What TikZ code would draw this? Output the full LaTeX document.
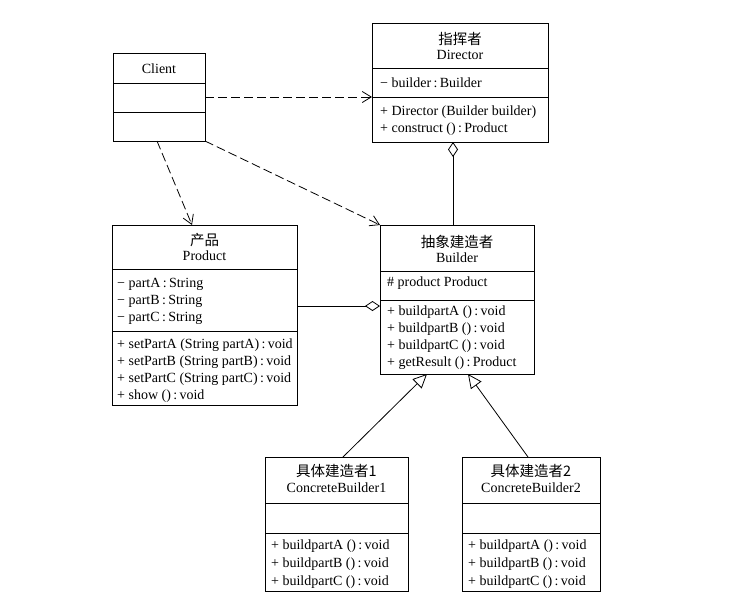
\documentclass[tikz,border=0pt]{standalone}
\usepackage{fontspec}
\setmainfont{Liberation Serif}
\newfontfamily\cjk{Noto Sans CJK SC}
\usetikzlibrary{arrows.meta,calc}
\begin{document}
\begin{tikzpicture}[x=1pt,y=-1pt,
  box/.style={draw,line width=0.9pt,anchor=north west,inner sep=0pt,outer sep=0pt},
  txt/.style={anchor=west,inner sep=0pt,yshift=-1pt,font=\fontsize{14}{16}\selectfont},
  ttl/.style={inner sep=0pt,font=\fontsize{14}{16}\selectfont},
  cn/.style={inner sep=0pt,font=\cjk\fontsize{14.5}{16}\selectfont},
  divline/.style={line width=0.9pt},
  dep/.style={draw,line width=0.8pt,dash pattern=on 9pt off 4pt,-{Straight Barb[length=9pt,width=11pt]}},
  agg/.style={draw,line width=0.8pt,-{Diamond[open,length=15pt,width=10pt]}},
  gen/.style={draw,line width=0.8pt,-{Triangle[open,length=14pt,width=13pt]}}
]
\useasboundingbox (0,0) rectangle (756,603);

% Client
\node[box,minimum width=92pt,minimum height=88pt] (client) at (113,53) {};
\draw[divline] (113,83) -- (205,83);
\draw[divline] (113,112) -- (205,112);
\node[ttl] (clientT) at (159,69) {Client};

% Director
\node[box,minimum width=176pt,minimum height=119pt] (director) at (372,23) {};
\draw[divline] (372,68) -- (548,68);
\draw[divline] (372,97) -- (548,97);
\node[cn] (dirC) at (460,39) {指挥者};
\node[ttl] (dirT) at (460,55) {Director};
\node[txt] (dirA1) at (380,82) {− builder\,:\,Builder};
\node[txt] (dirM1) at (380,111) {+ Director (Builder builder)};
\node[txt] (dirM2) at (380,128) {+ construct ()\,:\,Product};

% Product
\node[box,minimum width=185pt,minimum height=180pt] (product) at (112,225) {};
\draw[divline] (112,269) -- (297,269);
\draw[divline] (112,331) -- (297,331);
\node[cn] (prodC) at (204.5,240) {产品};
\node[ttl] (prodT) at (204.5,256) {Product};
\node[txt] (prodA1) at (117,283) {− partA\,:\,String};
\node[txt] (prodA2) at (117,300) {− partB\,:\,String};
\node[txt] (prodA3) at (117,317) {− partC\,:\,String};
\node[txt] (prodM1) at (117,344) {+ setPartA (String partA)\,:\,void};
\node[txt] (prodM2) at (117,361) {+ setPartB (String partB)\,:\,void};
\node[txt] (prodM3) at (117,378) {+ setPartC (String partC)\,:\,void};
\node[txt] (prodM4) at (117,395) {+ show ()\,:\,void};

% Builder
\node[box,minimum width=154pt,minimum height=149pt] (builder) at (380,225) {};
\draw[divline] (380,271) -- (534,271);
\draw[divline] (380,300) -- (534,300);
\node[cn] (bldC) at (457,242) {抽象建造者};
\node[ttl] (bldT) at (457,258) {Builder};
\node[txt] (bldA1) at (387,282) {\# product Product};
\node[txt] (bldM1) at (387,311) {+ buildpartA ()\,:\,void};
\node[txt] (bldM2) at (387,328) {+ buildpartB ()\,:\,void};
\node[txt] (bldM3) at (387,345) {+ buildpartC ()\,:\,void};
\node[txt] (bldM4) at (387,362) {+ getResult ()\,:\,Product};

% ConcreteBuilder1
\node[box,minimum width=143pt,minimum height=134pt] (cb1) at (265,457) {};
\draw[divline] (265,503) -- (408,503);
\draw[divline] (265,533) -- (408,533);
\node[cn] (cb1C) at (336.5,471) {具体建造者1};
\node[ttl] (cb1T) at (336.5,488) {ConcreteBuilder1};
\node[txt] (cb1M1) at (271,545) {+ buildpartA ()\,:\,void};
\node[txt] (cb1M2) at (271,563) {+ buildpartB ()\,:\,void};
\node[txt] (cb1M3) at (271,581) {+ buildpartC ()\,:\,void};

% ConcreteBuilder2
\node[box,minimum width=138pt,minimum height=134pt] (cb2) at (462,457) {};
\draw[divline] (462,503) -- (600,503);
\draw[divline] (462,533) -- (600,533);
\node[cn] (cb2C) at (531,471) {具体建造者2};
\node[ttl] (cb2T) at (531,488) {ConcreteBuilder2};
\node[txt] (cb2M1) at (468,545) {+ buildpartA ()\,:\,void};
\node[txt] (cb2M2) at (468,563) {+ buildpartB ()\,:\,void};
\node[txt] (cb2M3) at (468,581) {+ buildpartC ()\,:\,void};

% Connectors
\draw[dep] (client.east) -- (client.east -| director.west);
\draw[dep] ($(client.south)+(-2,0)$) -- ($(product.north west)+(80,0)$);
\draw[dep] (client.south east) -- (builder.north west);
\draw[agg] ($(builder.north)+(-4,0)$) -- ($(director.south)+(-7,0)$);
\coordinate (pb) at ($(product.east)+(0,-9)$);
\draw[agg] (pb) -- (pb -| builder.west);
\draw[gen] ($(cb1.north west)+(78,0)$) -- ($(builder.south west)+(47,0)$);
\draw[gen] ($(cb2.north west)+(66,0)$) -- ($(builder.south west)+(88,0)$);
\end{tikzpicture}
\end{document}
